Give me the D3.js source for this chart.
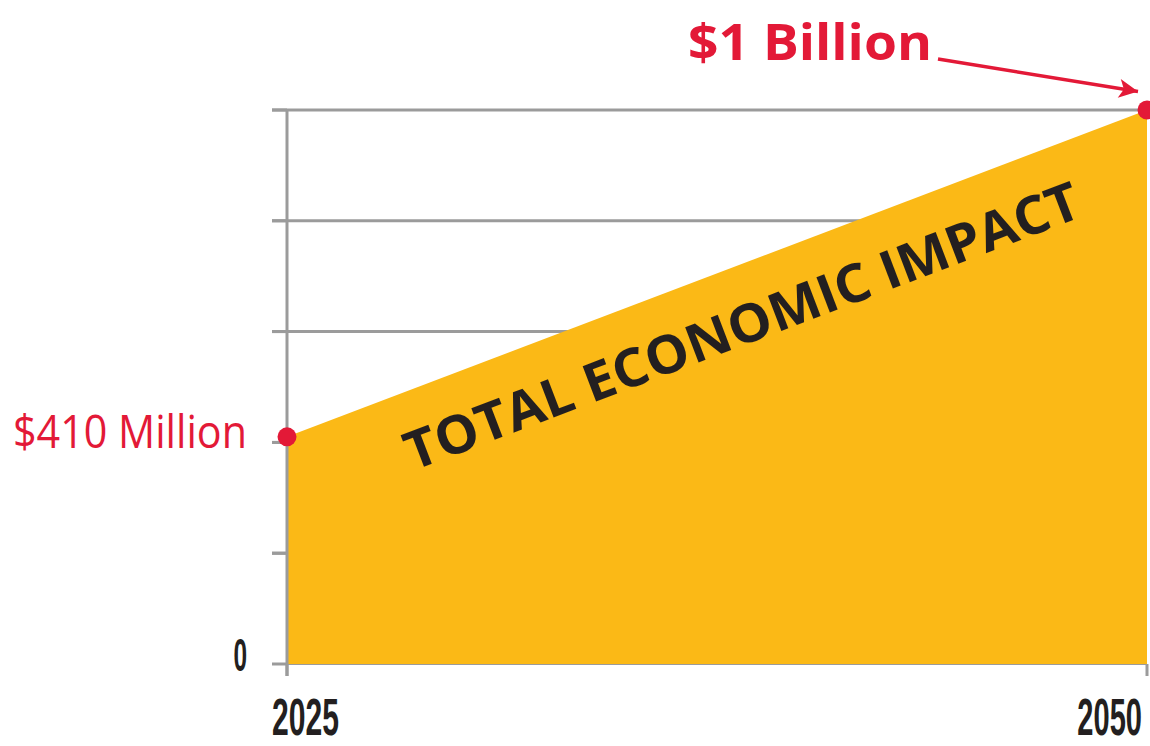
<!DOCTYPE html>
<html>
<head>
<meta charset="utf-8">
<script src="https://cdn.jsdelivr.net/npm/d3@7"></script>
<style>
  html, body { margin: 0; padding: 0; background: #fff; }
  svg { display: block; }
</style>
</head>
<body>
<svg id="chart" width="1150" height="746"></svg>
<script>
// ---- data ----
const years = [2025, 2050];
const values = [410, 1000];            // millions of dollars
const valueLabels = ["$410 Million", "$1 Billion"];
const yTicks = [0, 200, 400, 600, 800, 1000];
const yTickLabels = ["0", "", "", "", "", ""];
const xTickLabels = ["2025", "2050"];
const areaLabel = "TOTAL ECONOMIC IMPACT";

// ---- styles ----
const RED = "#E31937", YELLOW = "#FBB916", GRAY = "#9B9B9B", DARK = "#231F20";

const svg = d3.select("#chart");
const x = d3.scaleLinear().domain([2025, 2050]).range([287, 1147]);
const y = d3.scaleLinear().domain([0, 1000]).range([664, 110]);
const data = years.map((yr, i) => ({ year: yr, value: values[i] }));

// gridlines (behind area)
svg.append("g").selectAll("line").data(yTicks.slice(1)).join("line")
  .attr("x1", 272).attr("x2", x(2050))
  .attr("y1", d => y(d)).attr("y2", d => y(d))
  .attr("stroke", GRAY).attr("stroke-width", 3);

// left ticks
svg.append("g").selectAll("line").data(yTicks).join("line")
  .attr("x1", 272).attr("x2", x(2025))
  .attr("y1", d => y(d)).attr("y2", d => y(d))
  .attr("stroke", GRAY).attr("stroke-width", 3);

// baseline
svg.append("line").attr("x1", x(2025)).attr("x2", x(2050))
  .attr("y1", y(0)).attr("y2", y(0)).attr("stroke", GRAY).attr("stroke-width", 2);

// bottom ticks
svg.append("g").selectAll("line").data(years).join("line")
  .attr("x1", d => x(d)).attr("x2", d => x(d))
  .attr("y1", y(0)).attr("y2", y(0) + 12)
  .attr("stroke", GRAY).attr("stroke-width", 3);

// area
const area = d3.area().x(d => x(d.year)).y0(y(0)).y1(d => y(d.value));
svg.append("path").datum(data).attr("d", area).attr("fill", YELLOW);

// vertical axis line
svg.append("line").attr("x1", x(2025)).attr("x2", x(2025))
  .attr("y1", y(1000) - 1).attr("y2", y(0) + 12)
  .attr("stroke", GRAY).attr("stroke-width", 3);

// y tick label (condensed via horizontal scale)
svg.append("g").selectAll("text").data(yTicks.filter((d, i) => yTickLabels[i] !== "")).join("text")
  .attr("transform", d => `translate(247,${y(d) + 7}) scale(0.52,1)`)
  .attr("text-anchor", "end")
  .attr("font-family", "'Liberation Sans', Arial, sans-serif")
  .attr("font-weight", 700).attr("font-size", 47)
  .attr("fill", DARK)
  .text(d => yTickLabels[yTicks.indexOf(d)]);

// x tick labels (condensed via horizontal scale)
svg.append("text")
  .attr("transform", "translate(272,735) scale(0.59,1)")
  .attr("font-family", "'Liberation Sans', Arial, sans-serif")
  .attr("font-weight", 700).attr("font-size", 51)
  .attr("fill", DARK).text(xTickLabels[0]);
svg.append("text")
  .attr("transform", "translate(1142,735) scale(0.57,1)")
  .attr("text-anchor", "end")
  .attr("font-family", "'Liberation Sans', Arial, sans-serif")
  .attr("font-weight", 700).attr("font-size", 51)
  .attr("fill", DARK).text(xTickLabels[1]);

// area label, rotated along the slope
const ang = Math.atan2(y(values[0]) - y(values[1]), x(2050) - x(2025)) * 180 / Math.PI;
svg.append("text")
  .attr("transform", `translate(413,471) rotate(${-ang})`)
  .attr("font-family", "'Open Sans', 'Noto Sans', sans-serif")
  .attr("font-weight", 700).attr("font-size", 53)
  .attr("textLength", 718).attr("lengthAdjust", "spacingAndGlyphs")
  .attr("fill", DARK).text(areaLabel);

// points
svg.append("g").selectAll("circle").data(data).join("circle")
  .attr("cx", d => x(d.year)).attr("cy", d => y(d.value))
  .attr("r", 9.5).attr("fill", RED);

// value labels
svg.append("text").attr("x", 247).attr("y", 448)
  .attr("text-anchor", "end")
  .attr("font-family", "'Open Sans', 'Noto Sans', sans-serif")
  .attr("font-weight", 500).attr("font-size", 45)
  .attr("textLength", 234).attr("lengthAdjust", "spacingAndGlyphs")
  .attr("fill", RED).text(valueLabels[0]);

svg.append("text").attr("x", 688).attr("y", 60)
  .attr("font-family", "'Open Sans', 'Noto Sans', sans-serif")
  .attr("font-weight", 700).attr("font-size", 51)
  .attr("textLength", 244).attr("lengthAdjust", "spacingAndGlyphs")
  .attr("fill", RED).text(valueLabels[1]);

// arrow
svg.append("defs").append("marker")
  .attr("id", "arrow").attr("viewBox", "0 0 10 10")
  .attr("refX", 10).attr("refY", 5)
  .attr("markerUnits", "userSpaceOnUse")
  .attr("markerWidth", 25).attr("markerHeight", 19)
  .attr("orient", "auto")
  .append("path").attr("d", "M0,0 L10,5 L0,10 L2.5,5 Z").attr("fill", RED);
svg.append("line")
  .attr("x1", 938).attr("y1", 59).attr("x2", 1138).attr("y2", 91.5)
  .attr("stroke", RED).attr("stroke-width", 3.5)
  .attr("marker-end", "url(#arrow)");
</script>
</body>
</html>
